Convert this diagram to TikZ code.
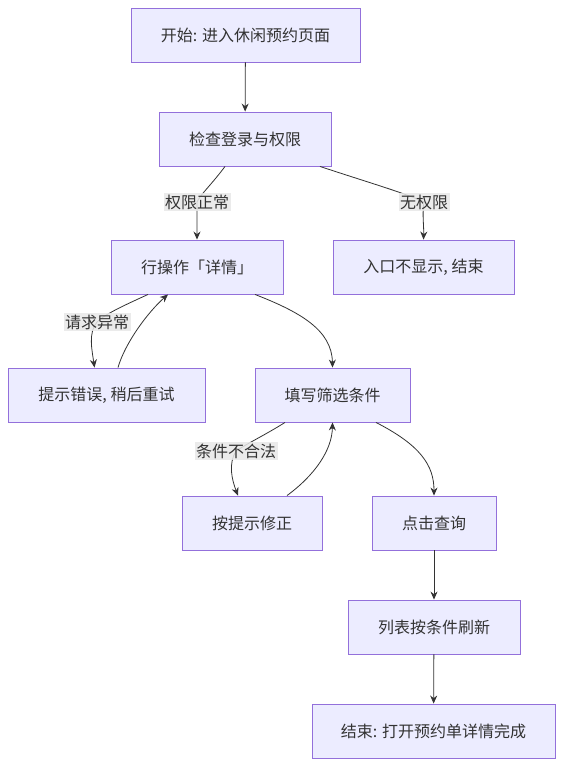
\documentclass[tikz,border=0pt]{standalone}
\usepackage{fontspec}
\setmainfont{Noto Sans CJK SC}
\usepackage{tikz}
\usetikzlibrary{arrows.meta}
\definecolor{boxfill}{HTML}{ECECFF}
\definecolor{boxline}{HTML}{9370DB}
\definecolor{txt}{HTML}{333333}
\definecolor{lblfill}{HTML}{E8E8E8}

\begin{document}
\begin{tikzpicture}[x=1pt, y=-1pt,
    box/.style={draw=boxline, line width=0.9pt, fill=boxfill, text=txt, minimum height=54pt, inner sep=0pt, font=\fontsize{16}{19}\selectfont},
    lbl/.style={fill=lblfill, fill opacity=0.85, text opacity=1, text=txt, inner sep=1.5pt, font=\fontsize{16}{19}\selectfont},
    arr/.style={draw=txt, line width=0.8pt, -{Stealth[length=8pt, width=7pt]}}]

  \useasboundingbox (0,0) rectangle (564,766);

  % Main flow
  \node[box, minimum width=229pt] (start) at (245.5,35) {开始: 进入休闲预约页面};
  \node[box, minimum width=172pt] (check) at (245,139) {检查登录与权限};
  \node[box, minimum width=172pt] (row) at (197,267) {行操作「详情」};
  \node[box, minimum width=181pt] (noperm) at (423.5,267) {入口不显示, 结束};

  % Error branches
  \node[box, minimum width=197pt] (err) at (106.5,395) {提示错误, 稍后重试};
  \node[box, minimum width=155pt] (fill) at (332.5,395) {填写筛选条件};
  \node[box, minimum width=140pt] (fix) at (252,523) {按提示修正};

  % Query
  \node[box, minimum width=124pt] (query) at (434,523) {点击查询};
  \node[box, minimum width=172pt] (refresh) at (434,627) {列表按条件刷新};
  \node[box, minimum width=243pt] (end) at (433.5,731) {结束: 打开预约单详情完成};

  % Label positions
  \coordinate (lok) at (197,202);
  \coordinate (lno) at (424,202);
  \coordinate (lreq) at (97,322);
  \coordinate (lbad) at (236,451);

  \draw[arr] (start) -- (check);
  \draw[arr] ([xshift=-20pt]check.south) .. controls (212,184) and (200,195) .. (lok)
    .. controls (197,215) and (197,225) .. (row.north);
  \draw[arr] ([xshift=75pt]check.south) .. controls (370,183) and (405,193) .. (lno)
    .. controls (422,215) and (424,225) .. (noperm.north);
  \draw[arr] ([xshift=-49pt]row.south) .. controls (125,305) and (105,314) .. (lreq)
    .. controls (88,333) and (92,350) .. ([xshift=-12pt]err.north);
  \draw[arr] ([xshift=11.5pt]err.north) .. controls (125,343) and (148,312) .. ([xshift=-29pt]row.south);
  \draw[arr] ([xshift=58pt]row.south) .. controls (300,312) and (332,330) .. (fill.north);
  \draw[arr] ([xshift=-47.5pt]fill.south) .. controls (265,435) and (248,443) .. (lbad)
    .. controls (228,464) and (232,480) .. ([xshift=-14pt]fix.north);
  \draw[arr] ([xshift=35pt]fix.north) .. controls (315,475) and (332,450) .. (fill.south);
  \draw[arr] ([xshift=43.5pt]fill.south) .. controls (420,445) and (434,465) .. (query.north);
  \draw[arr] (query) -- (refresh);
  \draw[arr] (refresh) -- (end);

  % Edge labels
  \node[lbl] (okl) at (lok) {权限正常};
  \node[lbl] (nol) at (lno) {无权限};
  \node[lbl] (reql) at (lreq) {请求异常};
  \node[lbl] (badl) at (lbad) {条件不合法};
\end{tikzpicture}
\end{document}
